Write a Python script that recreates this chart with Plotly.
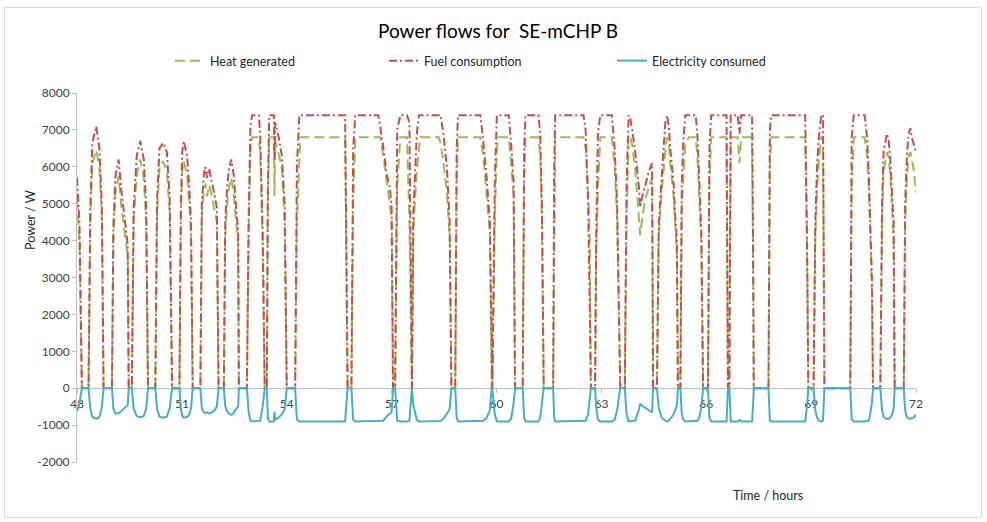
import plotly.graph_objects as go

# ---- data (time in hours, power in W) ----
hours = [
    48.00, 48.07, 48.14,
    48.33, 48.38, 48.44, 48.55, 48.64, 48.71, 48.76,
    49.00, 49.04, 49.10, 49.19, 49.27, 49.35, 49.45, 49.48,
    49.57, 49.62, 49.71, 49.81, 49.91, 49.98, 50.03,
    50.24, 50.29, 50.36, 50.46, 50.57, 50.65, 50.72,
    50.93, 50.97, 51.01, 51.05, 51.15, 51.21, 51.26, 51.31,
    51.53, 51.57, 51.63, 51.67, 51.72, 51.78, 51.84, 51.92, 52.00, 52.05,
    52.20, 52.24, 52.29, 52.34, 52.41, 52.48, 52.55, 52.61, 52.63,
    52.86, 52.91, 52.96, 53.01, 53.20, 53.24, 53.31, 53.37,
    53.43, 53.46, 53.50, 53.63, 53.65, 53.67, 53.77, 53.86, 53.94, 54.00,
    54.24, 54.29, 54.36, 54.39, 55.67, 55.70, 55.74,
    55.85, 55.90, 55.96, 56.62, 56.67, 56.76, 56.86, 56.95, 57.00, 57.04,
    57.10, 57.16, 57.25, 57.44, 57.51, 57.58,
    57.62, 57.72, 57.78, 57.82, 58.35, 58.40, 58.48, 58.58, 58.66, 58.71,
    58.82, 58.86, 58.90, 59.54, 59.62, 59.72, 59.81, 59.86,
    59.88, 59.95, 60.01, 60.06, 60.35, 60.42, 60.49, 60.53,
    60.75, 60.79, 60.83, 61.20, 61.25, 61.30, 61.35,
    61.62, 61.65, 61.68, 62.49, 62.55, 62.62, 62.67, 62.70,
    62.82, 62.85, 62.90, 62.97, 63.30, 63.38, 63.45, 63.54,
    63.67, 63.72, 63.78, 63.83, 63.88, 63.97, 64.07, 64.11, 64.16, 64.26, 64.35, 64.45, 64.48,
    64.59, 64.64, 64.73, 64.83, 64.88, 64.93, 64.97, 65.07, 65.11, 65.16, 65.19,
    65.26, 65.30, 65.35, 65.40, 65.50, 65.70, 65.75, 65.80, 65.86, 65.91,
    66.05, 66.09, 66.14, 66.58, 66.62,
    66.66, 66.70, 66.90, 66.95, 67.00, 67.31, 67.34, 67.36,
    67.78, 67.82, 67.86, 68.83, 68.88, 68.92,
    69.07, 69.12, 69.17, 69.22, 69.29, 69.34, 69.38,
    70.12, 70.16, 70.22, 70.53, 70.60, 70.65, 70.69, 70.74, 70.77,
    70.98, 71.03, 71.07, 71.17, 71.22, 71.26, 71.31, 71.36, 71.39,
    71.65, 71.69, 71.74, 71.79, 71.84, 71.88, 71.93, 72.00,
]

heat_generated = [
    5100, 4000, 0,
    0, 4500, 6100, 6450, 6000, 4600, 0,
    0, 4000, 5300, 5750, 4900, 4300, 3600, 0,
    0, 4500, 5800, 6200, 5700, 4500, 0,
    0, 4700, 6000, 6150, 5900, 4800, 0,
    0, 4500, 5900, 6150, 5800, 5000, 4200, 0,
    0, 4600, 5400, 5550, 5200, 5500, 5300, 4900, 4500, 0,
    0, 4100, 4950, 5400, 5700, 5300, 4500, 3900, 0,
    0, 4200, 6400, 6800, 6800, 6400, 4000, 0,
    0, 5000, 6800, 6800, 5200, 6700, 6350, 5950, 4500, 0,
    0, 4500, 6300, 6800, 6800, 4000, 0,
    0, 5000, 6800, 6800, 6800, 6300, 5600, 5000, 4600, 0,
    0, 5500, 6800, 6800, 4500, 0,
    4300, 5900, 6500, 6800, 6800, 6650, 6150, 5300, 4100, 0,
    0, 5500, 6800, 6800, 6300, 5300, 4200, 0,
    0, 4500, 6500, 6800, 6800, 6100, 5200, 0,
    0, 5500, 6800, 6800, 6300, 4500, 0,
    0, 5000, 6800, 6800, 6500, 5400, 4000, 0,
    0, 3500, 5400, 6800, 6800, 6000, 4600, 0,
    0, 4500, 6800, 6800, 6600, 5900, 4800, 4150, 4550, 5150, 5400, 5700, 0,
    0, 4100, 5400, 6400, 6800, 6700, 6100, 5150, 4350, 3600, 0,
    0, 4900, 5900, 6600, 6800, 6800, 6200, 5200, 3900, 0,
    0, 5500, 6800, 6800, 0,
    0, 6800, 6800, 6100, 6800, 6800, 3500, 0,
    0, 6000, 6800, 6800, 4000, 0,
    0, 4100, 5400, 6150, 6800, 6800, 0,
    0, 5500, 6800, 6800, 6300, 5400, 4100, 2700, 0,
    0, 4500, 5850, 6400, 6250, 5800, 5000, 4100, 0,
    0, 4500, 5700, 6300, 6400, 6200, 5950, 5300,
]

fuel_consumption = [
    5700, 4500, 0,
    0, 4900, 6650, 7100, 6500, 5000, 0,
    0, 4400, 5750, 6200, 5350, 4650, 3900, 0,
    0, 4900, 6300, 6700, 6200, 4900, 0,
    0, 5100, 6500, 6650, 6400, 5200, 0,
    0, 4900, 6400, 6700, 6300, 5450, 4600, 0,
    0, 5000, 5800, 6000, 5700, 5950, 5700, 5300, 4900, 0,
    0, 4500, 5400, 5900, 6200, 5800, 4900, 4250, 0,
    0, 4600, 7100, 7400, 7400, 6900, 4300, 0,
    0, 5500, 7400, 7400, 6200, 7200, 6800, 6300, 5000, 0,
    0, 6000, 7400, 7400, 7400, 4400, 0,
    0, 6500, 7400, 7400, 7100, 6550, 5800, 5450, 4900, 0,
    0, 7000, 7400, 7400, 7200, 0,
    4700, 6900, 7400, 7400, 7400, 7400, 6900, 6000, 4500, 0,
    0, 6500, 7400, 7400, 6700, 5700, 4500, 0,
    0, 5500, 7400, 7400, 7400, 6600, 5600, 0,
    0, 6500, 7400, 7400, 6900, 4900, 0,
    0, 6000, 7400, 7400, 7000, 5000, 2000, 0,
    0, 4000, 6900, 7400, 7400, 6500, 5000, 0,
    0, 5500, 7400, 7300, 7000, 6400, 5500, 4900, 5150, 5550, 5850, 6100, 0,
    0, 4400, 5800, 7200, 7400, 7100, 6500, 5500, 4700, 4000, 0,
    0, 5600, 6800, 7400, 7400, 7400, 6800, 5600, 4200, 0,
    0, 6500, 7400, 7400, 0,
    0, 7400, 7400, 6900, 7400, 7400, 3800, 0,
    0, 7000, 7400, 7400, 4300, 0,
    0, 4500, 6000, 6800, 7400, 7400, 0,
    0, 6800, 7400, 7400, 6800, 5800, 4400, 2900, 0,
    0, 5000, 6400, 6900, 6700, 6250, 5400, 4500, 0,
    0, 5000, 6300, 6900, 7050, 6800, 6600, 6400,
]

electricity_consumed = [
    -620, -420, 0,
    0, -550, -780, -830, -780, -520, 0,
    0, -550, -690, -680, -620, -540, -470, 0,
    0, -550, -750, -790, -750, -550, 0,
    0, -550, -770, -800, -770, -550, 0,
    0, -550, -750, -800, -780, -720, -550, 0,
    0, -550, -650, -680, -650, -690, -660, -620, -500, 0,
    0, -480, -620, -680, -720, -680, -560, -500, 0,
    0, -650, -880, -900, -900, -880, -500, 0,
    0, -800, -900, -900, -640, -850, -800, -700, -580, 0,
    0, -850, -900, -900, -900, -500, 0,
    0, -850, -900, -900, -900, -880, -760, -700, -650, 0,
    0, -880, -900, -900, -880, 0,
    -450, -860, -900, -900, -900, -890, -830, -700, -560, 0,
    0, -800, -900, -900, -880, -800, -600, 0,
    0, -700, -900, -900, -900, -820, -400, 0,
    0, -800, -900, -900, -800, -400, 0,
    0, -800, -900, -900, -880, -700, -300, 0,
    0, -500, -850, -900, -900, -850, -600, 0,
    0, -700, -900, -900, -900, -880, -600, -420, -470, -540, -600, -660, 0,
    0, -550, -800, -880, -900, -880, -820, -700, -600, -450, 0,
    0, -700, -860, -900, -900, -900, -880, -800, -500, 0,
    0, -800, -900, -900, 0,
    0, -900, -900, -860, -900, -900, -450, 0,
    0, -880, -900, -900, -500, 0,
    0, -600, -800, -880, -900, -880, 0,
    0, -850, -900, -900, -900, -880, -700, -400, 0,
    0, -600, -780, -840, -830, -800, -720, -550, 0,
    0, -600, -780, -820, -830, -820, -790, -720,
]

x_tick_values = [48, 51, 54, 57, 60, 63, 66, 69, 72]
y_tick_values = [-2000, -1000, 0, 1000, 2000, 3000, 4000, 5000, 6000, 7000, 8000]
y_tick_labels = ["-2000", "-1000", "0", "1000", "2000", "3000", "4000",
                 "5000", "6000", "7000", "8000"]

assert len(hours) == len(heat_generated) == len(fuel_consumption) == len(electricity_consumed)

FONT = "Lato, 'Open Sans', sans-serif"
W, H = 987, 522
L, R, T, B = 77, 71, 93, 60
PW, PH = W - L - R, H - T - B


def px_x(px):
    return (px - L) / PW


def px_y(py):
    return (H - B - py) / PH


fig = go.Figure()
fig.add_trace(go.Scatter(
    x=hours, y=heat_generated, mode="lines", name="Heat generated",
    line=dict(color="#9BBB59", width=2, dash="10px,5px"), legend="legend"))
fig.add_trace(go.Scatter(
    x=hours, y=fuel_consumption, mode="lines", name="Fuel consumption",
    line=dict(color="#C0504D", width=2, dash="8px,3px,2px,3px"), legend="legend2"))
fig.add_trace(go.Scatter(
    x=hours, y=electricity_consumed, mode="lines", name="Electricity consumed",
    line=dict(color="#4BACC6", width=2), legend="legend3"))

leg_common = dict(orientation="h", yanchor="middle", xanchor="left",
                  font=dict(family=FONT, size=12.5, color="#262626"),
                  bgcolor="rgba(0,0,0,0)", borderwidth=0)

fig.update_layout(
    width=W, height=H,
    showlegend=True,
    margin=dict(l=L, r=R, t=T, b=B, pad=0),
    paper_bgcolor="white", plot_bgcolor="white",
    font=dict(family=FONT, size=12, color="#404040"),
    title=dict(text="Power flows for  SE-mCHP B", xref="container", yref="container",
               x=498 / W, y=1 - 31 / H, xanchor="center", yanchor="middle",
               font=dict(family=FONT, size=19, color="#000000")),
    legend=dict(x=px_x(170), y=px_y(61), **leg_common),
    legend2=dict(x=px_x(384), y=px_y(61), **leg_common),
    legend3=dict(x=px_x(612), y=px_y(61), **leg_common),
    xaxis=dict(range=[48, 72], tickvals=x_tick_values, ticktext=[str(v) for v in x_tick_values],
               anchor="free", position=0.2, showline=True, linecolor="#BFBFBF", linewidth=1,
               ticks="outside", ticklen=4, tickcolor="#BFBFBF", showgrid=False, zeroline=False,
               layer="below traces", tickfont=dict(family=FONT, size=12, color="#404040")),
    yaxis=dict(range=[-2000, 8000], tickvals=y_tick_values, ticktext=y_tick_labels,
               showline=True, linecolor="#BFBFBF", linewidth=1, ticks="outside", ticklen=4,
               tickcolor="#BFBFBF", showgrid=False, zeroline=False,
               tickfont=dict(family=FONT, size=12, color="#404040")),
    annotations=[
        dict(text="Power / W", xref="paper", yref="paper", x=px_x(30), y=px_y(220),
             textangle=-90, showarrow=False, xanchor="center", yanchor="middle",
             font=dict(family=FONT, size=12.5, color="#262626")),
        dict(text="Time / hours", xref="paper", yref="paper", x=px_x(768), y=px_y(495),
             showarrow=False, xanchor="center", yanchor="middle",
             font=dict(family=FONT, size=12.5, color="#262626")),
    ],
    shapes=[dict(type="rect", xref="paper", yref="paper",
                 x0=px_x(4.5), x1=px_x(981.5), y0=px_y(517.5), y1=px_y(7.5),
                 line=dict(color="#D9D9D9", width=1), fillcolor="rgba(0,0,0,0)", layer="below")],
)

fig.write_html("out.html",
               config={"displayModeBar": False},
               post_script="document.body.style.margin='0';document.body.style.overflow='hidden';")
